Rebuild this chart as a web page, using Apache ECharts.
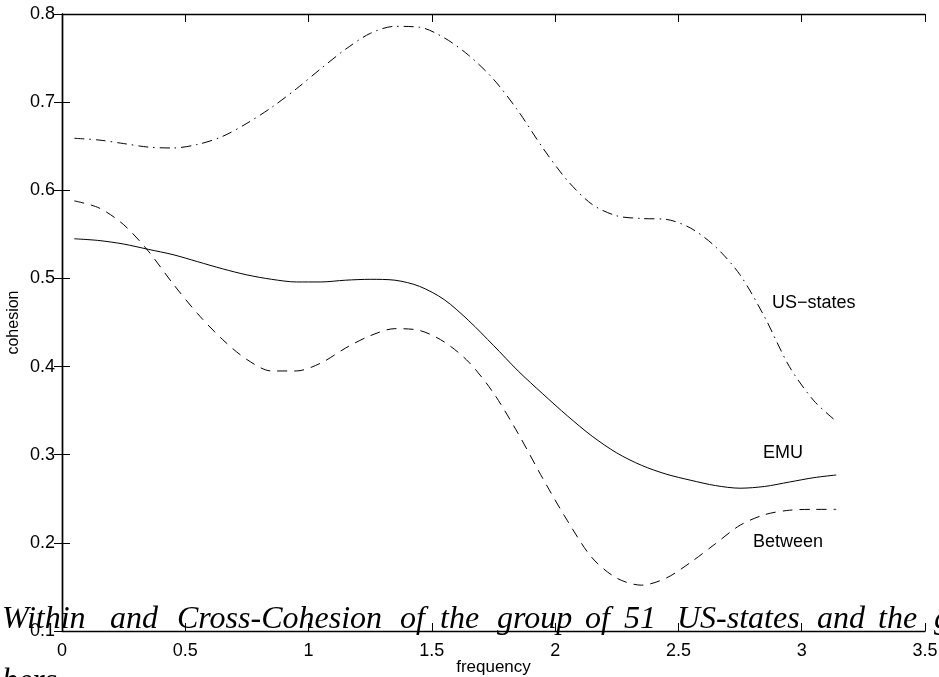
<!DOCTYPE html>
<html>
<head>
<meta charset="utf-8">
<title>cohesion</title>
<script src="https://cdn.jsdelivr.net/npm/echarts@6/dist/echarts.min.js"></script>
<style>
  html, body { margin: 0; padding: 0; background: #fff; }
  #chart { width: 939px; height: 677px; }
</style>
</head>
<body>
<div id="chart"></div>
<script>
const freq = [0.05, 0.15, 0.25, 0.35, 0.45, 0.55, 0.65, 0.75, 0.85, 0.95,
  1.05, 1.15, 1.25, 1.35, 1.45, 1.55, 1.65, 1.75, 1.85, 1.95,
  2.05, 2.15, 2.25, 2.35, 2.45, 2.55, 2.65, 2.75, 2.85, 2.95, 3.05, 3.14];

const usStates = [0.659, 0.657, 0.653, 0.649, 0.648, 0.652, 0.661, 0.676, 0.694, 0.715,
  0.738, 0.760, 0.778, 0.786, 0.785, 0.773, 0.753, 0.726, 0.690, 0.648,
  0.611, 0.584, 0.571, 0.568, 0.567, 0.557, 0.536, 0.504, 0.456, 0.400, 0.361, 0.338];

const emu = [0.545, 0.543, 0.539, 0.533, 0.527, 0.519, 0.511, 0.504, 0.499, 0.496,
  0.496, 0.498, 0.499, 0.498, 0.491, 0.476, 0.452, 0.424, 0.395, 0.369,
  0.344, 0.321, 0.302, 0.288, 0.278, 0.271, 0.265, 0.262, 0.264, 0.269, 0.274, 0.277];

const between = [0.588, 0.580, 0.561, 0.531, 0.494, 0.460, 0.431, 0.408, 0.395, 0.395,
  0.404, 0.421, 0.435, 0.443, 0.441, 0.428, 0.405, 0.370, 0.324, 0.273,
  0.225, 0.183, 0.160, 0.152, 0.160, 0.178, 0.199, 0.220, 0.232, 0.237, 0.238, 0.238];

// caption words (the figure caption bleeds over the plot)
const captionWords = ["Within", "and", "Cross-Cohesion", "of", "the", "group", "of", "51", "US-states", "and", "the", "group"];
const captionX = [2, 110, 177, 400, 440, 497, 585, 624, 677, 817, 878, 934];

const pairs = (vals) => freq.map((f, i) => [f, vals[i]]);

const chart = echarts.init(document.getElementById("chart"));

const axisCommon = {
  axisLine: { show: true, lineStyle: { color: "#000", width: 1.4 } },
  axisTick: { show: true, inside: true, length: 8, lineStyle: { color: "#000", width: 1 } },
  splitLine: { show: false },
};
const tickFont = { color: "#000", fontFamily: "Liberation Sans", fontSize: 18 };

const graphics = [
  { type: "text", left: 772, top: 305 - 11, style: { text: "US\u2212states", font: '18px "Liberation Sans"', fill: "#000" } },
  { type: "text", left: 763, top: 455 - 11, style: { text: "EMU", font: '18px "Liberation Sans"', fill: "#000" } },
  { type: "text", left: 753, top: 544 - 11, style: { text: "Between", font: '18px "Liberation Sans"', fill: "#000" } },
];
captionWords.forEach((w, i) => {
  graphics.push({
    type: "text", x: captionX[i], y: 636, z: 100,
    style: { text: w, font: 'italic 32px "Liberation Serif"', fill: "#000", verticalAlign: "bottom" },
  });
});
graphics.push({
  type: "text", x: 2, y: 698, z: 100,
  style: { text: "bers", font: 'italic 32px "Liberation Serif"', fill: "#000", verticalAlign: "bottom" },
});

chart.setOption({
  animation: false,
  backgroundColor: "#fff",
  grid: { left: 62, right: 14, top: 14, bottom: 46, containLabel: false, outerBoundsMode: "none" },
  xAxis: [
    {
      type: "value", min: 0, max: 3.5, interval: 0.5, position: "bottom",
      name: "frequency", nameLocation: "middle", nameGap: 28, nameMoveOverlap: false,
      nameTextStyle: { color: "#000", fontFamily: "Liberation Sans", fontSize: 17 },
      axisLabel: { ...tickFont, margin: 11 },
      ...axisCommon,
    },
    {
      type: "value", min: 0, max: 3.5, interval: 0.5, position: "top",
      axisLabel: { show: false },
      ...axisCommon,
    },
  ],
  yAxis: [
    {
      type: "value", min: 0.1, max: 0.8, interval: 0.1, position: "left",
      name: "cohesion", nameLocation: "middle", nameGap: 40, nameRotate: 90, nameMoveOverlap: false,
      nameTextStyle: { color: "#000", fontFamily: "Liberation Sans", fontSize: 16 },
      axisLabel: { ...tickFont, margin: 7 },
      ...axisCommon,
    },
    {
      type: "value", min: 0.1, max: 0.8, interval: 0.1, position: "right",
      axisLabel: { show: false },
      ...axisCommon,
    },
  ],
  series: [
    {
      name: "US-states", type: "line", data: pairs(usStates), smooth: 0.3,
      showSymbol: false, lineStyle: { color: "#000", width: 1, type: [10, 5, 1.5, 5] },
    },
    {
      name: "EMU", type: "line", data: pairs(emu), smooth: 0.3,
      showSymbol: false, lineStyle: { color: "#000", width: 1, type: "solid" },
    },
    {
      name: "Between", type: "line", data: pairs(between), smooth: 0.3,
      showSymbol: false, lineStyle: { color: "#000", width: 1, type: [10, 7] },
    },
  ],
  graphic: graphics,
});
</script>
</body>
</html>
